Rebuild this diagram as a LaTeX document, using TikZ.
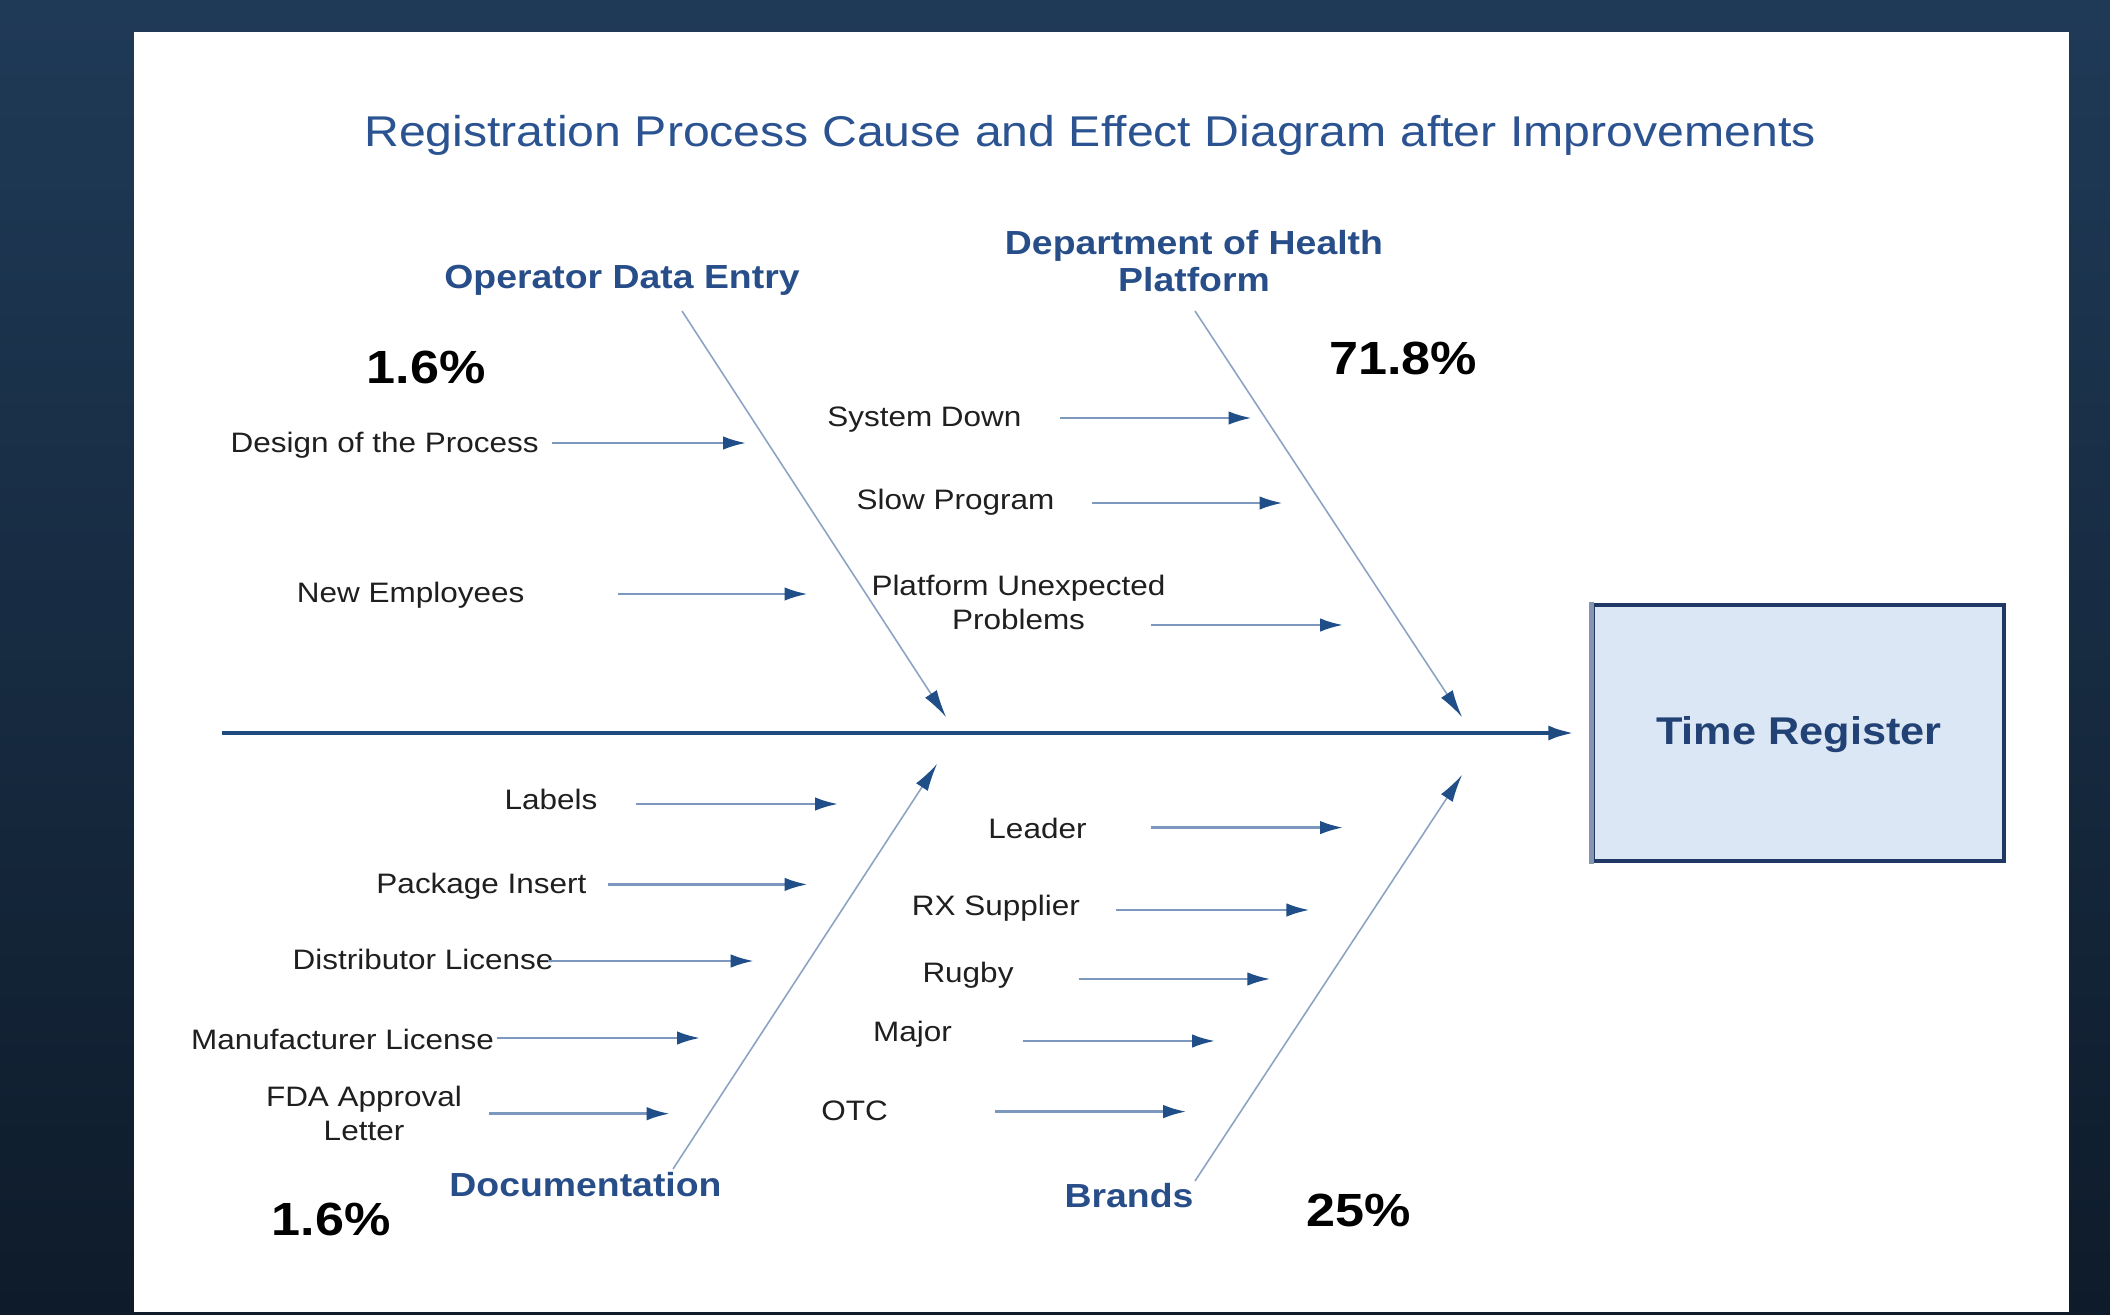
\documentclass[tikz,border=0pt]{standalone}
\usepackage{fontspec}
\setmainfont{Liberation Sans}[FakeStretch=1.12]
\usepackage{tikz}
\usetikzlibrary{arrows.meta, positioning}

\definecolor{bgtop}{RGB}{31,58,87}
\definecolor{bgbottom}{RGB}{14,27,42}
\definecolor{titleblue}{RGB}{43,83,145}
\definecolor{labelblue}{RGB}{40,78,138}
\definecolor{ribblue}{RGB}{141,163,195}
\definecolor{arrowblue}{RGB}{124,152,190}
\definecolor{tipblue}{RGB}{31,78,137}
\definecolor{spineblue}{RGB}{31,74,127}
\definecolor{boxfill}{RGB}{220,231,245}
\definecolor{boxline}{RGB}{31,56,100}
\definecolor{boxedge}{RGB}{132,150,176}

\tikzset{
    cause/.style={font=\fontsize{16}{19.5}\selectfont, text=black!88, align=center, inner sep=0pt, yshift=-1pt},
    category/.style={font=\bfseries\fontsize{19}{21.5}\selectfont, text=labelblue, align=center, inner sep=0pt},
    percent/.style={font=\bfseries\fontsize{26.5}{30}\selectfont, text=black, inner sep=0pt},
    causearrow/.style={draw=arrowblue, line width=1.4pt, -{Latex[length=0.46cm, width=0.27cm, color=tipblue]}},
    rib/.style={draw=ribblue, line width=0.9pt, -{Latex[length=0.55cm, width=0.28cm, color=tipblue]}},
    spine/.style={draw=spineblue, line width=2.8pt, shorten >=0.32cm, -{Latex[length=0.54cm, width=0.3cm]}},
    effect/.style={draw=boxline, line width=2pt, fill=boxfill, minimum width=8.22cm, minimum height=5.12cm},
    effectlabel/.style={font=\bfseries\fontsize{22}{26}\selectfont, text=labelblue!85!black, inner sep=0pt}
}

\begin{document}
\begin{tikzpicture}[x=0.02cm, y=-0.02cm]
    % 1. Nền tối và khung trắng
    \fill[top color=bgtop, bottom color=bgbottom] (0,0) rectangle (2110,1315);
    \fill[white] (134,32) rectangle (2069,1312);
    \useasboundingbox (0,0) rectangle (2110,1315);

    % 2. Tiêu đề
    \node[font=\fontsize{24.5}{28}\selectfont, text=titleblue] (title) at (1090,135)
        {Registration Process Cause and Effect Diagram after Improvements};

    % 3. Xương sống và hộp kết quả
    \node[effect] (effect) at (1798.5,733) {};
    \draw[boxedge, line width=3pt] ([yshift=1pt]effect.north west) -- ([yshift=-1pt]effect.south west);
    \node[effectlabel] (effect-text) at (1799,735) {Time Register};
    \coordinate (tail) at (222,733);
    \draw[spine] (tail) -- (effect.west);

    % 4. Bốn nhánh chính
    \node[category] (operator) at (622,280) {Operator Data Entry};
    \coordinate (operator-a) at (682,311);
    \coordinate (operator-b) at (946,717);
    \draw[rib] (operator-a) -- (operator-b);

    \node[category] (health) at (1194,261) {Department of Health\\Platform};
    \coordinate (health-a) at (1195,311);
    \coordinate (health-b) at (1462,717);
    \draw[rib] (health-a) -- (health-b);

    \node[category] (docs) at (585.5,1185) {Documentation};
    \coordinate (docs-a) at (673,1169);
    \coordinate (docs-b) at (937,764);
    \draw[rib] (docs-a) -- (docs-b);

    \node[category] (brands) at (1129,1196) {Brands};
    \coordinate (brands-a) at (1195,1181);
    \coordinate (brands-b) at (1462,775);
    \draw[rib] (brands-a) -- (brands-b);

    % Tỉ lệ phần trăm của từng nhánh
    \node[percent] (p-operator) at (426,367) {1.6\%};
    \node[percent] (p-health) at (1403,358) {71.8\%};
    \node[percent] (p-docs) at (331,1219) {1.6\%};
    \node[percent] (p-brands) at (1359,1210) {25\%};

    % 5. Nguyên nhân nhánh Operator Data Entry
    \node[cause] (design) at (384.6,443) {Design of the Process};
    \coordinate (design-a) at (552,443);
    \coordinate (design-b) at (746,443);
    \draw[causearrow] (design-a) -- (design-b);

    \node[cause] (newemp) at (410.6,593) {New Employees};
    \coordinate (newemp-a) at (618,594);
    \coordinate (newemp-b) at (807.5,594);
    \draw[causearrow] (newemp-a) -- (newemp-b);

    % Nguyên nhân nhánh Department of Health Platform
    \node[cause] (sysdown) at (924.4,418) {System Down};
    \coordinate (sysdown-a) at (1060,418);
    \coordinate (sysdown-b) at (1251.5,418);
    \draw[causearrow] (sysdown-a) -- (sysdown-b);

    \node[cause] (slow) at (955.5,500.5) {Slow Program};
    \coordinate (slow-a) at (1092,503);
    \coordinate (slow-b) at (1282.5,503);
    \draw[causearrow] (slow-a) -- (slow-b);

    \node[cause] (unexp) at (1018.5,601) {Platform Unexpected\\Problems};
    \coordinate (unexp-a) at (1151,625);
    \coordinate (unexp-b) at (1343,625);
    \draw[causearrow] (unexp-a) -- (unexp-b);

    % Nguyên nhân nhánh Documentation
    \node[cause] (labels) at (551,798) {Labels};
    \coordinate (labels-a) at (636,804);
    \coordinate (labels-b) at (838,804);
    \draw[causearrow] (labels-a) -- (labels-b);

    \node[cause] (insert) at (481.5,884.4) {Package Insert};
    \coordinate (insert-a) at (607.7,884.4);
    \coordinate (insert-b) at (807.5,884.4);
    \draw[causearrow] (insert-a) -- (insert-b);

    \node[cause] (distlic) at (423,958) {Distributor License};
    \coordinate (distlic-a) at (548.4,961);
    \coordinate (distlic-b) at (753.7,961);
    \draw[causearrow] (distlic-a) -- (distlic-b);

    \node[cause] (manlic) at (342.5,1038) {Manufacturer License};
    \coordinate (manlic-a) at (496.6,1038);
    \coordinate (manlic-b) at (700,1038);
    \draw[causearrow] (manlic-a) -- (manlic-b);

    \node[cause] (fda) at (364,1111.5) {FDA Approval\\Letter};
    \coordinate (fda-a) at (489,1113.7);
    \coordinate (fda-b) at (669.6,1113.7);
    \draw[causearrow] (fda-a) -- (fda-b);

    % Nguyên nhân nhánh Brands
    \node[cause] (leader) at (1037.5,827) {Leader};
    \coordinate (leader-a) at (1151,827.6);
    \coordinate (leader-b) at (1343,827.6);
    \draw[causearrow] (leader-a) -- (leader-b);

    \node[cause] (rx) at (995.8,906) {RX Supplier};
    \coordinate (rx-a) at (1115.6,910);
    \coordinate (rx-b) at (1309.4,910);
    \draw[causearrow] (rx-a) -- (rx-b);

    \node[cause] (rugby) at (968,973) {Rugby};
    \coordinate (rugby-a) at (1078.6,979);
    \coordinate (rugby-b) at (1270.3,979);
    \draw[causearrow] (rugby-a) -- (rugby-b);

    \node[cause] (major) at (912.5,1032) {Major};
    \coordinate (major-a) at (1022.7,1041);
    \coordinate (major-b) at (1215,1041);
    \draw[causearrow] (major-a) -- (major-b);

    \node[cause] (otc) at (854.6,1109.5) {OTC};
    \coordinate (otc-a) at (994.6,1111.6);
    \coordinate (otc-b) at (1186.2,1111.6);
    \draw[causearrow] (otc-a) -- (otc-b);
\end{tikzpicture}
\end{document}
